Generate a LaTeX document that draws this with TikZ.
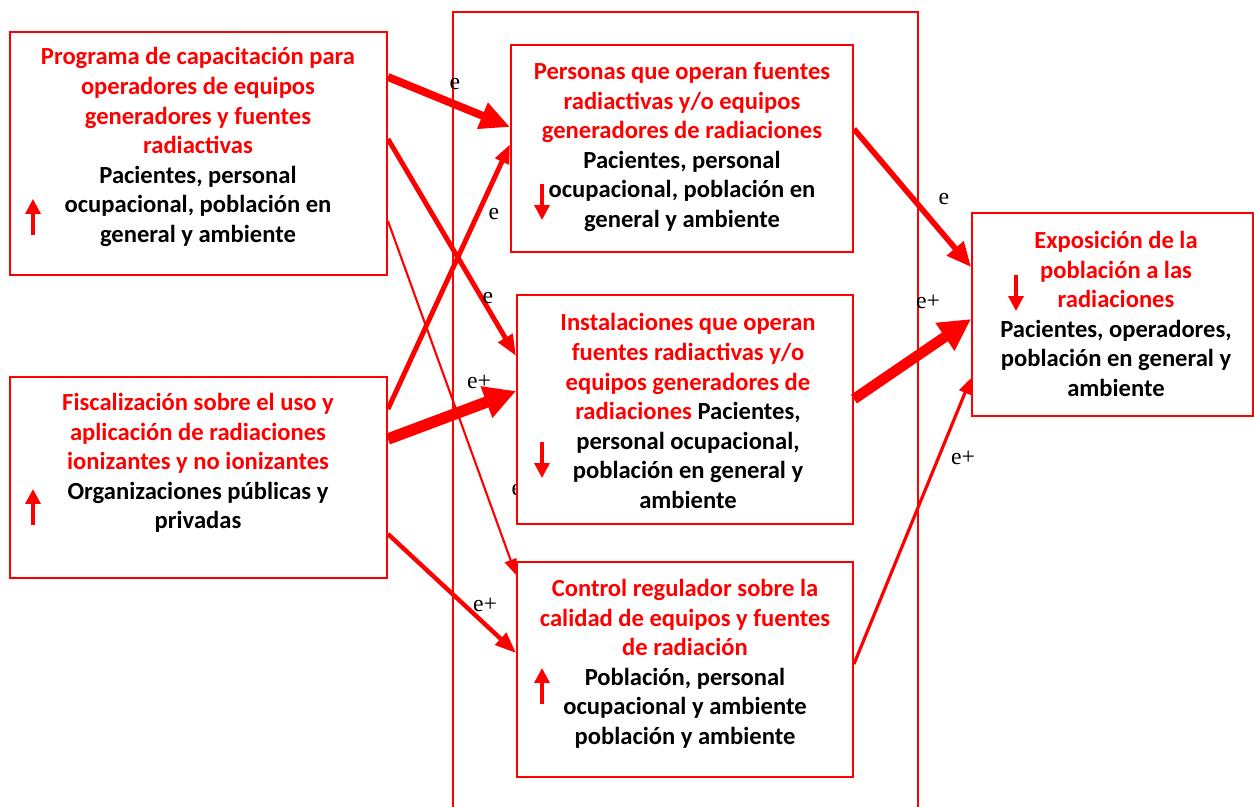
\documentclass[tikz,border=0pt]{standalone}
\usepackage{fontspec}
\setmainfont{Carlito}
\newfontfamily\labfont{Liberation Serif}
\usetikzlibrary{arrows.meta,calc,fit}
\definecolor{rd}{RGB}{255,0,0}
\newcommand{\bk}[1]{\textcolor{black}{#1}}
\begin{document}
\begin{tikzpicture}[x=0.02cm,y=-0.02cm,
  box/.style={draw=rd,line width=1.1pt,fill=white,inner sep=0pt},
  txt/.style={align=center,font=\fontsize{14}{16.8}\selectfont\bfseries,text=rd,inner sep=0pt},
  lab/.style={font=\labfont\fontsize{13.5}{13.5}\selectfont,inner sep=0pt},
  conn/.style={draw=rd},
  tip/.style 2 args={-{Triangle[length=#1,width=#2]}},
  small/.style={draw=rd,line width=1.9pt,-{Triangle[length=8.5pt,width=8.5pt]}}
]
\useasboundingbox (0,0) rectangle (1254,807);
% outer frame
\draw[rd,line width=1.1pt] (453,830) -- (453,12) -- (918,12) -- (918,830);
% partially hidden label
\node[lab] (lx) at (517,490) {e};
% boxes
\node[box,fit={(10,32) (387,275)}] (A) {};
\node[box,fit={(10,377) (387,578)}] (B) {};
\node[box,fit={(511,45) (853,252)}] (C) {};
\node[box,fit={(517,295) (853,524)}] (D) {};
\node[box,fit={(517,562) (853,777)}] (E) {};
\node[box,fit={(972,213) (1253,416)}] (F) {};
% connectors
\draw[conn,line width=4.5pt,tip={17pt}{15pt}] ($(A.north east)+(0,46)$) -- ($(C.north west)+(0,83)$);
\draw[conn,line width=2.8pt,tip={12pt}{9pt}] ($(A.north east)+(0,108)$) -- ($(D.north west)+(0,62)$);
\draw[conn,line width=1.2pt,tip={9pt}{7pt}] ($(A.north east)+(0,190)$) -- ($(E.north west)+(0,14)$);
\draw[conn,line width=2.8pt,tip={11pt}{8pt}] ($(B.north east)+(0,33)$) -- ($(C.north west)+(0,100)$);
\draw[conn,line width=6.5pt,tip={18pt}{18pt}] ($(B.north east)+(0,63)$) -- ($(D.north west)+(0,97)$);
\draw[conn,line width=2.5pt,tip={12pt}{9pt}] ($(B.north east)+(0,158)$) -- ($(E.north west)+(0,92)$);
\draw[conn,line width=3.2pt,tip={14pt}{12pt}] ($(C.north east)+(0,85)$) -- ($(F.north west)+(0,55)$);
\draw[conn,line width=6pt,tip={18pt}{18pt}] ($(D.north east)+(0,105)$) -- ($(F.north west)+(0,107)$);
\draw[conn,line width=1.8pt,tip={9pt}{7pt}] ($(E.north east)+(0,103)$) -- ($(F.north west)+(0,166)$);
% labels
\node[lab] (l1) at (455,84) {e};
\node[lab] (l2) at (494,214) {e};
\node[lab] (l3) at (488,298) {e};
\node[lab] (l4) at (479,382) {e+};
\node[lab] (l5) at (485,605) {e+};
\node[lab] (l6) at (944,199) {e};
\node[lab] (l7) at (928,302) {e+};
\node[lab] (l8) at (963,458) {e+};
% texts
\node[txt] (tA) at (198,147) {Programa de capacitación para\\operadores de equipos\\generadores y fuentes\\radiactivas\\\bk{Pacientes, personal}\\\bk{ocupacional, población en}\\\bk{general y ambiente}};
\node[txt] (tB) at (198,463) {Fiscalización sobre el uso y\\aplicación de radiaciones\\ionizantes y no ionizantes\\\bk{Organizaciones públicas y}\\\bk{privadas}};
\node[txt] (tC) at (682,147) {Personas que operan fuentes\\radiactivas y/o equipos\\generadores de radiaciones\\\bk{Pacientes, personal}\\\bk{ocupacional, población en}\\\bk{general y ambiente}};
\node[txt] (tD) at (688,411) {Instalaciones que operan\\fuentes radiactivas y/o\\equipos generadores de\\radiaciones \bk{Pacientes,}\\\bk{personal ocupacional,}\\\bk{población en general y}\\\bk{ambiente}};
\node[txt] (tE) at (685,664) {Control regulador sobre la\\calidad de equipos y fuentes\\de radiación\\\bk{Población, personal}\\\bk{ocupacional y ambiente}\\\bk{población y ambiente}};
\node[txt] (tF) at (1116,314) {Exposición de la\\población a las\\radiaciones\\\bk{Pacientes, operadores,}\\\bk{población en general y}\\\bk{ambiente}};
% small trend arrows
\draw[small] (33,235) -- (33,199);
\draw[small] (33,525) -- (33,489);
\draw[small] (542,184) -- (542,220);
\draw[small] (542,442) -- (542,478);
\draw[small] (542,704) -- (542,668);
\draw[small] (1016,275) -- (1016,311);
\end{tikzpicture}
\end{document}
